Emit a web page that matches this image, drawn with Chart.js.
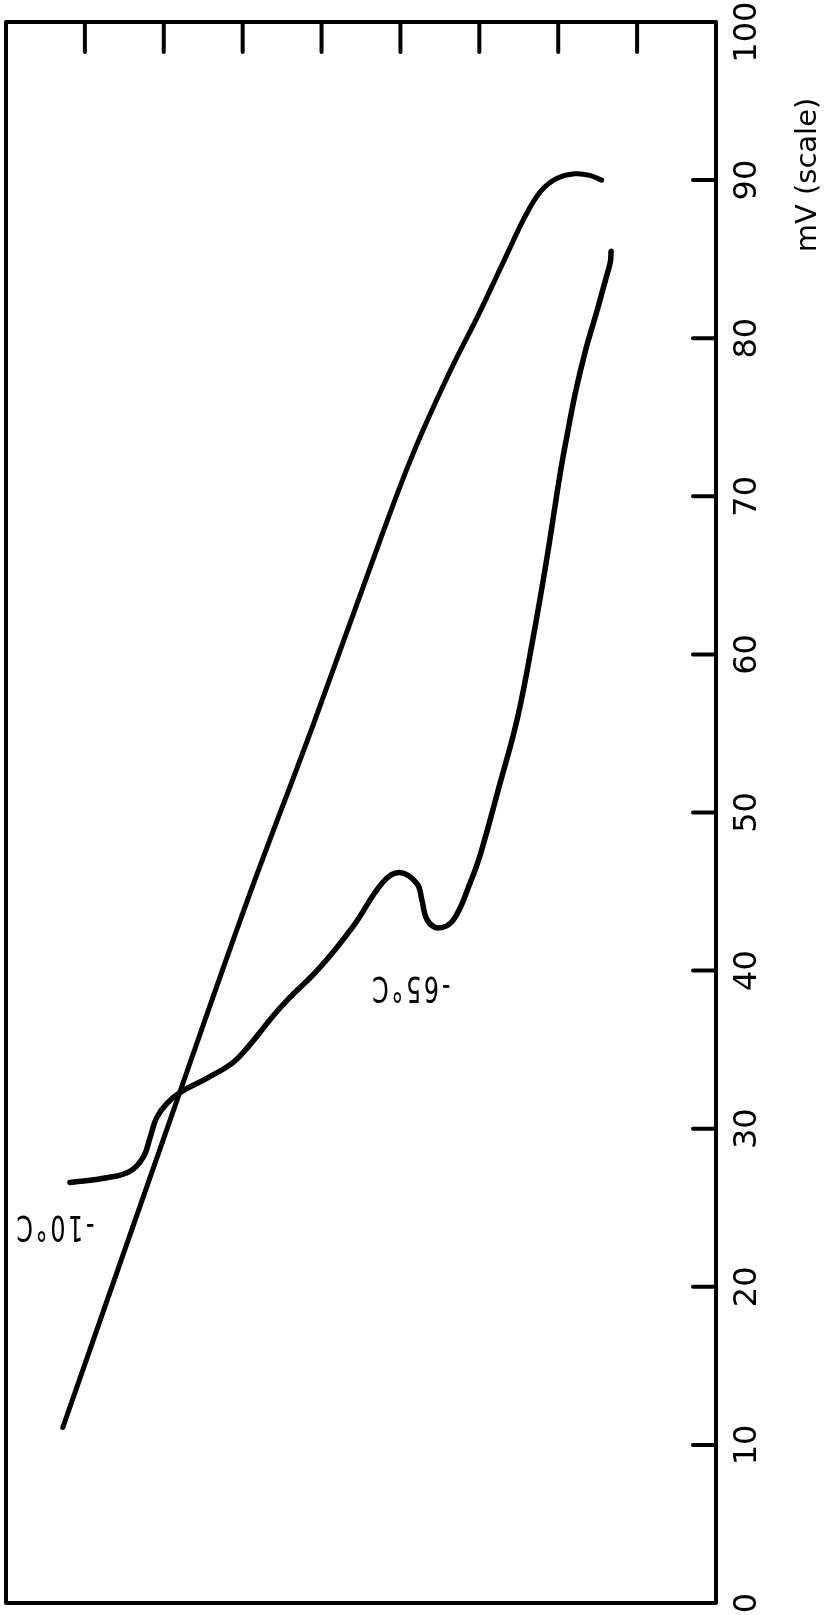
<!DOCTYPE html>
<html>
<head>
<meta charset="utf-8">
<title>mV (scale)</title>
<script src="https://cdn.jsdelivr.net/npm/chart.js@4"></script>
<style>
  html, body { margin: 0; padding: 0; background: #fff; }
  #wrap { width: 830px; height: 1615px; position: relative; }
</style>
</head>
<body>
<div id="wrap"><canvas id="trace"></canvas></div>
<script>
// chart divisions across (no labels), mV down the right side
const divisionTicks = [1, 2, 3, 4, 5, 6, 7, 8]
const mvTicks = [0, 10, 20, 30, 40, 50, 60, 70, 80, 90, 100]

// near-straight trace
const traceBx = [0.72, 2.21, 3.05, 3.89, 4.74, 5.16, 5.59, 6.01, 6.35, 6.58, 6.78, 6.98, 7.21, 7.40, 7.55]
const traceBy = [11.1, 32.4, 44.3, 55.5, 67.2, 72.7, 77.5, 81.7, 85.3, 87.7, 89.3, 90.1, 90.4, 90.3, 90.0]

// trace with the hump and dip
const traceAx = [0.81, 1.28, 1.57, 1.74, 1.83, 1.91, 2.04, 2.21, 2.55, 2.88, 3.09, 3.38, 3.56, 3.98, 4.40, 4.78, 4.99, 5.21, 5.27, 5.34, 5.48, 5.67, 5.88, 6.01, 6.26, 6.48, 6.68, 6.86, 7.02, 7.11, 7.22, 7.35, 7.49, 7.60, 7.66, 7.67]
const traceAy = [26.6, 26.9, 27.3, 28.2, 29.5, 30.7, 31.6, 32.3, 33.2, 34.2, 35.3, 37.1, 38.1, 40.2, 42.8, 45.6, 46.2, 45.5, 44.5, 43.2, 42.7, 43.2, 45.5, 47.3, 51.8, 55.9, 61.0, 66.2, 71.3, 73.8, 76.6, 79.3, 81.7, 83.7, 84.8, 85.5]

// temperature notes, written upside down on the sheet
const noteText = ["-10°C", "-65°C"]
const noteX = [0.61, 5.12]
const noteY = [23.9, 39.0]

const axisTitle = "mV (scale)"
const fontFamily = "'DejaVu Sans', sans-serif"
const tickFont = { family: fontFamily, size: 32 }

function toPoints(xs, ys) {
    return xs.map((x, i) => ({ x: x, y: ys[i] }))
}

// top label gets a trailing figure space so it sits a little lower, inside the canvas
function mvLabel(v) {
    return v === 100 ? "100\u2007" : String(v)
}

// centre the rotated labels about 32px right of the frame
const probe = document.createElement("canvas").getContext("2d")
probe.font = `${tickFont.size}px ${fontFamily}`
const widest = Math.max(...mvTicks.map(v => probe.measureText(mvLabel(v)).width))
const labelPad = 32 - widest / 2

const sheet = {
    id: "sheet",
    afterDraw(chart) {
        const ctx = chart.ctx
        const area = chart.chartArea
        const xs = chart.scales.x
        const ys = chart.scales.y
        ctx.save()
        ctx.strokeStyle = "#000"
        ctx.fillStyle = "#000"
        ctx.lineCap = "round"

        // inward tick marks along top and right edges
        ctx.lineWidth = 4
        divisionTicks.forEach(v => {
            const px = xs.getPixelForValue(v)
            ctx.beginPath()
            ctx.moveTo(px, area.top)
            ctx.lineTo(px, area.top + 30)
            ctx.stroke()
        })
        mvTicks.slice(1, -1).forEach(v => {
            const py = ys.getPixelForValue(v)
            ctx.beginPath()
            ctx.moveTo(area.right - 23, py)
            ctx.lineTo(area.right, py)
            ctx.stroke()
        })

        // frame
        ctx.lineCap = "butt"
        ctx.lineJoin = "round"
        ctx.strokeRect(area.left, area.top, area.right - area.left, area.bottom - area.top)

        // axis title, reading upwards
        ctx.font = `29px ${fontFamily}`
        ctx.textAlign = "center"
        ctx.textBaseline = "middle"
        ctx.save()
        ctx.translate(area.right + 92, area.top + 153)
        ctx.rotate(-Math.PI / 2)
        ctx.fillText(axisTitle, 0, 0)
        ctx.restore()

        // notes in tall narrow lettering
        ctx.font = `35px ${fontFamily}`
        ctx.letterSpacing = "4px"
        noteText.forEach((t, i) => {
            ctx.save()
            ctx.translate(xs.getPixelForValue(noteX[i]), ys.getPixelForValue(noteY[i]))
            ctx.rotate(Math.PI)
            ctx.scale(0.68, 1)
            ctx.fillText(t, 0, 0)
            ctx.restore()
        })
        ctx.restore()
    }
}

const lineStyle = {
    borderColor: "#000",
    pointRadius: 0,
    fill: false,
    tension: 0.4,
    borderCapStyle: "round",
    borderJoinStyle: "round"
}

new Chart(document.getElementById("trace"), {
    type: "line",
    data: {
        datasets: [
            Object.assign({ label: "A", data: toPoints(traceAx, traceAy), borderWidth: 5.5 }, lineStyle),
            Object.assign({ label: "B", data: toPoints(traceBx, traceBy), borderWidth: 5 }, lineStyle)
        ]
    },
    options: {
        responsive: true,
        maintainAspectRatio: false,
        animation: false,
        events: [],
        layout: { padding: { top: 22, bottom: 12, left: 6, right: 0 } },
        plugins: { legend: { display: false }, tooltip: { enabled: false } },
        scales: {
            x: {
                type: "linear",
                position: "top",
                min: 0,
                max: 9,
                ticks: { display: false, stepSize: 1 },
                grid: { display: false, drawTicks: false },
                border: { display: false }
            },
            y: {
                type: "linear",
                position: "right",
                min: 0,
                max: 100,
                afterBuildTicks: scale => { scale.ticks = mvTicks.map(v => ({ value: v })) },
                afterFit: scale => {
                    scale.width = 114
                    scale.paddingTop = 0
                    scale.paddingBottom = 0
                },
                ticks: {
                    color: "#000",
                    font: tickFont,
                    minRotation: 90,
                    maxRotation: 90,
                    crossAlign: "center",
                    padding: labelPad,
                    callback: v => mvLabel(v)
                },
                grid: { display: false, drawTicks: false },
                border: { display: false }
            }
        }
    },
    plugins: [sheet]
})
</script>
</body>
</html>
